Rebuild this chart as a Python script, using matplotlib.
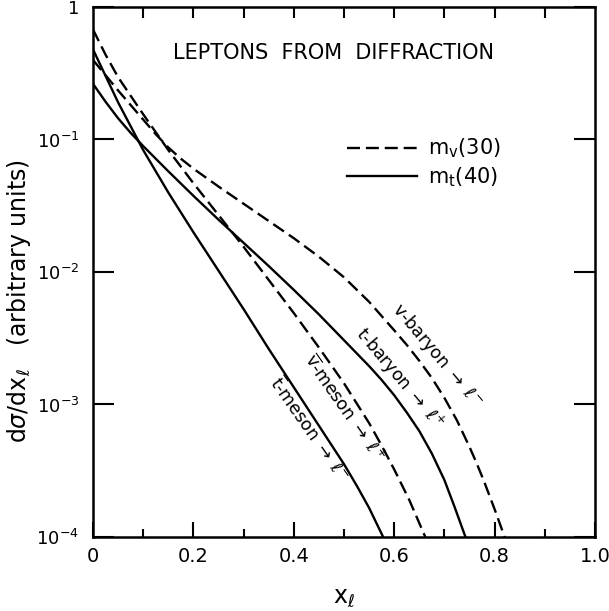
import numpy as np
import matplotlib
matplotlib.use('Agg')
import matplotlib.pyplot as plt
from matplotlib.ticker import FixedLocator, FixedFormatter, NullLocator
from matplotlib.lines import Line2D

# curves: x_l and log10(dsigma/dx_l)
x_vbar_meson = [0.0, 0.025, 0.05, 0.1, 0.15, 0.2, 0.25, 0.3, 0.35, 0.4, 0.45, 0.5, 0.55, 0.575, 0.6,
                0.63, 0.662]
log_vbar_meson = [-0.17, -0.36, -0.53, -0.81, -1.08, -1.33, -1.57, -1.81, -2.06, -2.31, -2.57, -2.84,
                  -3.14, -3.31, -3.49, -3.72, -4.0]

x_v_baryon = [0.0, 0.05, 0.1, 0.125, 0.15, 0.175, 0.2, 0.25, 0.3, 0.35, 0.4, 0.45, 0.5, 0.55, 0.6,
              0.625, 0.65, 0.675, 0.7, 0.725, 0.75, 0.765, 0.78, 0.8, 0.82]
log_v_baryon = [-0.40, -0.63, -0.85, -0.96, -1.06, -1.145, -1.22, -1.355, -1.485, -1.615, -1.745,
                -1.885, -2.04, -2.225, -2.44, -2.55, -2.67, -2.80, -2.95, -3.12, -3.32, -3.45,
                -3.59, -3.79, -4.0]

x_tbar_meson = [0.0, 0.025, 0.05, 0.1, 0.15, 0.2, 0.25, 0.3, 0.35, 0.4, 0.45, 0.5, 0.525, 0.55, 0.578]
log_tbar_meson = [-0.32, -0.52, -0.72, -1.08, -1.40, -1.70, -1.99, -2.28, -2.58, -2.87, -3.16, -3.45,
                  -3.61, -3.78, -4.0]

x_t_baryon = [0.0, 0.025, 0.05, 0.075, 0.1, 0.15, 0.2, 0.25, 0.3, 0.35, 0.4, 0.45, 0.5, 0.55, 0.575,
              0.6, 0.625, 0.65, 0.675, 0.7, 0.72, 0.742]
log_t_baryon = [-0.58, -0.715, -0.84, -0.95, -1.05, -1.24, -1.425, -1.605, -1.78, -1.955, -2.135,
                -2.32, -2.515, -2.71, -2.815, -2.93, -3.06, -3.20, -3.37, -3.57, -3.77, -4.0]

y_ticks = [1e-4, 1e-3, 1e-2, 1e-1, 1]
y_ticklabels = [r'$10^{-4}$', r'$10^{-3}$', r'$10^{-2}$', r'$10^{-1}$', '1']
x_ticks = [0, 0.2, 0.4, 0.6, 0.8, 1.0]
x_ticklabels = ['0', '0.2', '0.4', '0.6', '0.8', '1.0']

plt.rcParams['font.family'] = 'DejaVu Sans'
plt.rcParams['mathtext.fontset'] = 'dejavusans'

fig = plt.figure(figsize=(6.09, 6.11), dpi=100)
ax = fig.add_axes([0.1527, 0.1211, 0.8243, 0.8675])

lw = 1.7
dash = (0, (5.5, 2.5))
ax.plot(x_vbar_meson, 10 ** np.array(log_vbar_meson), color='black', lw=lw, linestyle=dash)
ax.plot(x_v_baryon, 10 ** np.array(log_v_baryon), color='black', lw=lw, linestyle=dash)
ax.plot(x_tbar_meson, 10 ** np.array(log_tbar_meson), color='black', lw=lw)
ax.plot(x_t_baryon, 10 ** np.array(log_t_baryon), color='black', lw=lw)

ax.set_yscale('log')
ax.set_xlim(0, 1.0)
ax.set_ylim(1e-4, 1)

for s in ax.spines.values():
    s.set_linewidth(1.8)

ax.xaxis.set_major_locator(FixedLocator(x_ticks))
ax.xaxis.set_major_formatter(FixedFormatter(x_ticklabels))
ax.xaxis.set_minor_locator(FixedLocator([0.1, 0.3, 0.5, 0.7, 0.9]))
ax.yaxis.set_major_locator(FixedLocator(y_ticks))
ax.yaxis.set_major_formatter(FixedFormatter(y_ticklabels))
ax.yaxis.set_minor_locator(NullLocator())

ax.tick_params(axis='x', which='major', direction='in', length=11, width=1.5,
               labelsize=14, pad=7, top=False)
ax.tick_params(axis='x', which='minor', direction='in', length=6, width=1.5, top=False)
ax.tick_params(axis='y', which='major', direction='in', length=15, width=1.5,
               labelsize=13, pad=10, right=True)

top = ax.secondary_xaxis('top')
top.xaxis.set_major_locator(FixedLocator([0.1 * i for i in range(1, 10)]))
top.tick_params(direction='in', length=8, width=1.5, labeltop=False)
top.spines['top'].set_visible(False)

ax.set_xlabel(r'x$_\ell$', fontsize=17)
ax.xaxis.set_label_coords(0.5, -0.09)
ax.set_ylabel(r'd$\sigma$/dx$_\ell$   (arbitrary units)', fontsize=17)
ax.yaxis.set_label_coords(-0.12, 0.446)

ax.text(0.48, 0.913, 'LEPTONS  FROM  DIFFRACTION', transform=ax.transAxes,
        ha='center', va='center', fontsize=15)

handles = [Line2D([], [], color='black', lw=lw, linestyle=dash),
           Line2D([], [], color='black', lw=lw)]
ax.legend(handles, [r'm$_\mathrm{v}$(30)', r'm$_\mathrm{t}$(40)'], loc='upper left',
          bbox_to_anchor=(0.505, 0.755), frameon=False, fontsize=15,
          handlelength=3.4, handletextpad=0.5, labelspacing=0.25,
          borderpad=0, borderaxespad=0)


def px_to_axes(px, py):
    return (px - 93) / 502.0, (537 - py) / 531.0


labels = [
    (r'v-baryon $\rightarrow$ $\ell^{-}$', 437, 355, -50),
    (r't-baryon $\rightarrow$ $\ell^{+}$', 399, 378, -50),
    (r'$\overline{\mathrm{v}}$-meson $\rightarrow$ $\ell^{+}$', 344, 408, -55),
    (r'$\overline{\mathrm{t}}$-meson $\rightarrow$ $\ell^{-}$', 309, 429, -55),
]
for txt, px, py, rot in labels:
    xa, ya = px_to_axes(px, py)
    ax.text(xa, ya, txt, transform=ax.transAxes, rotation=rot,
            rotation_mode='anchor', ha='center', va='center', fontsize=12.5)

fig.savefig('out.png', dpi=100)
